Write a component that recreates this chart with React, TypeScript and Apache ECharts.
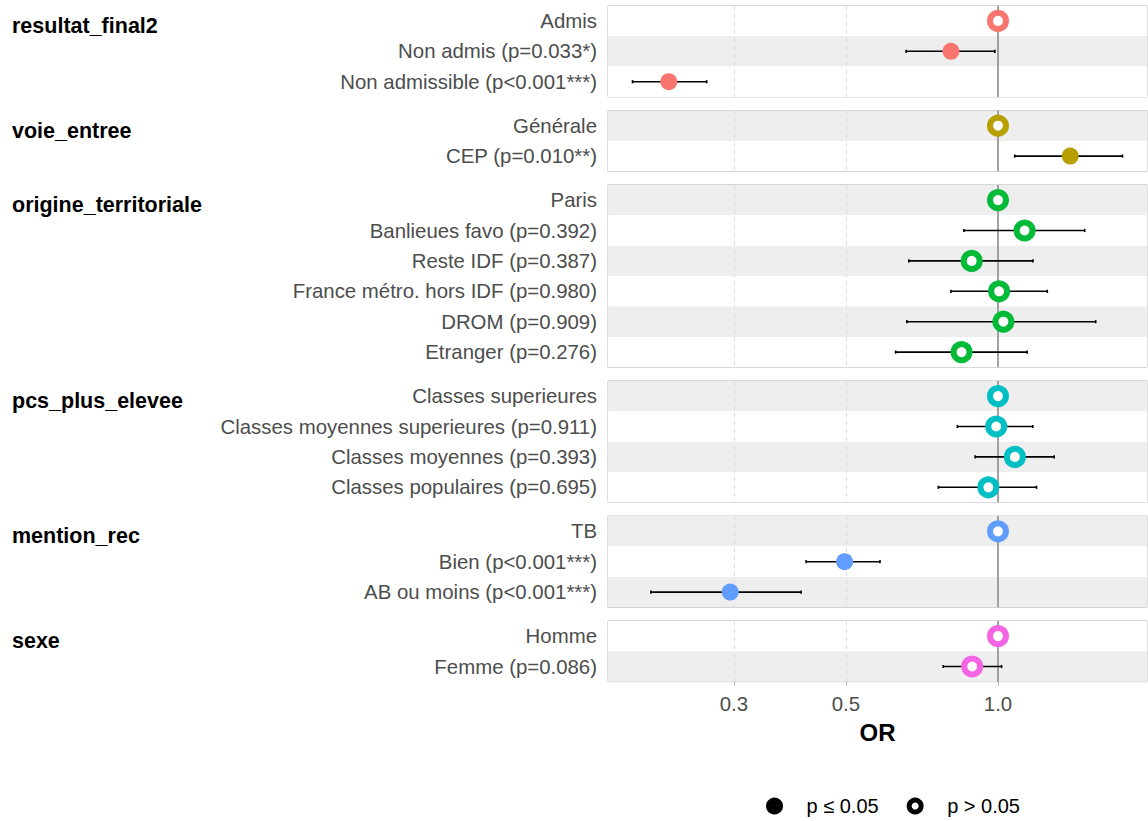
import React, { useEffect, useRef } from 'react';
import * as echarts from 'echarts';

// ---------- data ----------
const groups = ['resultat_final2', 'voie_entree', 'origine_territoriale', 'pcs_plus_elevee', 'mention_rec', 'sexe'];
const groupColors = ['#F8766D', '#B79F00', '#00BA38', '#00BFC4', '#619CFF', '#F564E3'];

const resultatLabels = ['Admis', 'Non admis (p=0.033*)', 'Non admissible (p<0.001***)'];
const resultatOR = [1, 0.807, 0.223];
const resultatLow = [null, 0.658, 0.189];
const resultatHigh = [null, 0.986, 0.265];
const resultatSig = [false, true, true];

const voieLabels = ['Générale', 'CEP (p=0.010**)'];
const voieOR = [1, 1.39];
const voieLow = [null, 1.079];
const voieHigh = [null, 1.764];
const voieSig = [false, true];

const origineLabels = ['Paris', 'Banlieues favo (p=0.392)', 'Reste IDF (p=0.387)', 'France métro. hors IDF (p=0.980)', 'DROM (p=0.909)', 'Etranger (p=0.276)'];
const origineOR = [1, 1.129, 0.887, 1.005, 1.025, 0.847];
const origineLow = [null, 0.856, 0.666, 0.807, 0.66, 0.627];
const origineHigh = [null, 1.485, 1.173, 1.252, 1.561, 1.142];
const origineSig = [false, false, false, false, false, false];

const pcsLabels = ['Classes superieures', 'Classes moyennes superieures (p=0.911)', 'Classes moyennes (p=0.393)', 'Classes populaires (p=0.695)'];
const pcsOR = [1, 0.992, 1.08, 0.957];
const pcsLow = [null, 0.831, 0.901, 0.762];
const pcsHigh = [null, 1.172, 1.292, 1.192];
const pcsSig = [false, false, false, false];

const mentionLabels = ['TB', 'Bien (p<0.001***)', 'AB ou moins (p<0.001***)'];
const mentionOR = [1, 0.497, 0.295];
const mentionLow = [null, 0.417, 0.2055];
const mentionHigh = [null, 0.584, 0.4076];
const mentionSig = [false, true, true];

const sexeLabels = ['Homme', 'Femme (p=0.086)'];
const sexeOR = [1, 0.889];
const sexeLow = [null, 0.779];
const sexeHigh = [null, 1.0165];
const sexeSig = [false, false];

const tickValues = [0.3, 0.5, 1.0];
const legendLabels = ['p ≤ 0.05', 'p > 0.05'];

// ---------- layout / style ----------
const FONT = '"Liberation Sans", Arial, Helvetica, sans-serif';
const ROW = 30.4;
const GAP = 13.6;
const TOP0 = 5.7;
const LEFT = 608;
const WIDTH = 539;

type Panel = { labels: string[]; or: number[]; low: (number | null)[]; high: (number | null)[]; sig: boolean[] };

const panels: Panel[] = [
  { labels: resultatLabels, or: resultatOR, low: resultatLow, high: resultatHigh, sig: resultatSig },
  { labels: voieLabels, or: voieOR, low: voieLow, high: voieHigh, sig: voieSig },
  { labels: origineLabels, or: origineOR, low: origineLow, high: origineHigh, sig: origineSig },
  { labels: pcsLabels, or: pcsOR, low: pcsLow, high: pcsHigh, sig: pcsSig },
  { labels: mentionLabels, or: mentionOR, low: mentionLow, high: mentionHigh, sig: mentionSig },
  { labels: sexeLabels, or: sexeOR, low: sexeLow, high: sexeHigh, sig: sexeSig },
];

function buildOption() {
  const allLow = panels.flatMap((p) => p.low.filter((v) => v != null) as number[]);
  const allHigh = panels.flatMap((p) => p.high.filter((v) => v != null) as number[]);
  const lnMin = Math.log(Math.min(...allLow));
  const lnMax = Math.log(Math.max(...allHigh));
  const pad = 0.05 * (lnMax - lnMin);
  const xMin = lnMin - pad;
  const xMax = lnMax + pad;
  const tickLn = tickValues.map((v) => Math.log(v));

  const grids: any[] = [];
  const xAxes: any[] = [];
  const yAxes: any[] = [];
  const series: any[] = [];
  const graphics: any[] = [];

  let top = TOP0;
  let globalRow = 0;
  const last = panels.length - 1;

  panels.forEach((p, i) => {
    const h = p.labels.length * ROW;
    grids.push({
      left: LEFT,
      top,
      width: WIDTH,
      height: h,
      show: true,
      borderColor: '#BDBDBD',
      borderWidth: 1,
      backgroundColor: 'transparent',
      containLabel: false,
    });
    xAxes.push({
      type: 'value',
      gridIndex: i,
      min: xMin,
      max: xMax,
      axisLine: { show: false },
      splitLine: { show: false },
      axisTick: {
        show: i === last,
        customValues: tickLn,
        length: 4,
        lineStyle: { color: '#B3B3B3', width: 1 },
      },
      axisLabel: {
        show: i === last,
        customValues: tickLn,
        formatter: (v: number) => Math.exp(v).toFixed(1),
        fontSize: 20.4,
        color: '#4D4D4D',
        fontFamily: FONT,
        margin: 12,
      },
      name: i === last ? 'OR' : '',
      nameLocation: 'middle',
      nameGap: 39,
      nameTextStyle: { fontSize: 24, fontWeight: 'bold', color: '#000', fontFamily: FONT },
    });
    const startGrey = globalRow % 2 === 1;
    yAxes.push({
      type: 'category',
      gridIndex: i,
      data: p.labels,
      inverse: true,
      axisLine: { show: false },
      axisTick: { show: false },
      splitLine: { show: false },
      axisLabel: { interval: 0, fontSize: 20.4, color: '#4D4D4D', fontFamily: FONT, margin: 11 },
      splitArea: {
        show: true,
        interval: 0,
        areaStyle: { color: startGrey ? ['#EEEEEE', '#FFFFFF'] : ['#FFFFFF', '#EEEEEE'] },
      },
    });

    const ciData: any[] = [];
    const filled: any[] = [];
    const open: any[] = [];
    p.labels.forEach((_, k) => {
      const lo = p.low[k];
      const hi = p.high[k];
      if (lo != null && hi != null) ciData.push([Math.log(lo), k, Math.log(hi)]);
      const pt = { value: [Math.log(p.or[k]), k] };
      if (p.sig[k]) filled.push({ ...pt, itemStyle: { color: groupColors[i] } });
      else open.push({ ...pt, itemStyle: { color: '#FFFFFF', borderColor: groupColors[i] } });
    });

    series.push({
      type: 'custom',
      xAxisIndex: i,
      yAxisIndex: i,
      z: 2,
      silent: true,
      encode: { x: [0, 2], y: 1 },
      data: ciData,
      renderItem: (params: any, api: any) => {
        const a = api.coord([api.value(0), api.value(1)]);
        const b = api.coord([api.value(2), api.value(1)]);
        const c = 1.6;
        const style = { stroke: '#000', lineWidth: 1.6 };
        return {
          type: 'group',
          children: [
            { type: 'line', shape: { x1: a[0], y1: a[1], x2: b[0], y2: b[1] }, style },
            { type: 'line', shape: { x1: a[0], y1: a[1] - c, x2: a[0], y2: a[1] + c }, style },
            { type: 'line', shape: { x1: b[0], y1: b[1] - c, x2: b[0], y2: b[1] + c }, style },
          ],
        };
      },
      markLine: {
        silent: true,
        z: 1,
        symbol: ['none', 'none'],
        label: { show: false },
        data: [
          { xAxis: tickLn[0], lineStyle: { type: [4, 4], color: '#DCDCDC', width: 1 } },
          { xAxis: tickLn[1], lineStyle: { type: [4, 4], color: '#DCDCDC', width: 1 } },
          { xAxis: 0, lineStyle: { type: 'solid', color: '#8C8C8C', width: 1.6 } },
        ],
      },
    });
    series.push({
      type: 'scatter',
      name: legendLabels[0],
      xAxisIndex: i,
      yAxisIndex: i,
      z: 3,
      symbol: 'circle',
      symbolSize: 17,
      itemStyle: { color: '#000', opacity: 1 },
      data: filled,
    });
    series.push({
      type: 'scatter',
      name: legendLabels[1],
      xAxisIndex: i,
      yAxisIndex: i,
      z: 3,
      symbol: 'circle',
      symbolSize: 16,
      itemStyle: { color: '#FFFFFF', borderColor: '#000', borderWidth: 6, opacity: 1 },
      data: open,
    });

    graphics.push({
      type: 'text',
      x: 12,
      y: top + 20,
      style: {
        text: groups[i],
        font: `bold 21.5px ${FONT}`,
        fill: '#000',
        verticalAlign: 'middle',
        align: 'left',
      },
    });

    top += h + GAP;
    globalRow += p.labels.length;
  });

  return {
    animation: false,
    backgroundColor: '#FFFFFF',
    textStyle: { fontFamily: FONT },
    grid: grids,
    xAxis: xAxes,
    yAxis: yAxes,
    series,
    graphic: graphics,
    legend: {
      show: true,
      left: 766,
      top: 796,
      padding: 0,
      itemGap: 28,
      itemWidth: 12,
      itemHeight: 12,
      selectedMode: false,
      textStyle: { fontSize: 20, color: '#000', fontFamily: FONT, padding: [0, 0, 0, 21] },
      data: [
        { name: legendLabels[0], icon: 'circle', itemStyle: { color: '#000', borderColor: '#000', borderWidth: 5 } },
        { name: legendLabels[1], icon: 'circle', itemStyle: { color: '#FFFFFF', borderColor: '#000', borderWidth: 5 } },
      ],
    },
  };
}

export default function App() {
  const ref = useRef<HTMLDivElement>(null);
  useEffect(() => {
    document.body.style.margin = '0';
    if (!ref.current) return;
    const chart = echarts.init(ref.current, null, { renderer: 'svg' });
    chart.setOption(buildOption() as any);
    return () => chart.dispose();
  }, []);
  return <div ref={ref} style={{ width: 1148, height: 821, position: 'absolute', left: 0, top: 0 }} />;
}
